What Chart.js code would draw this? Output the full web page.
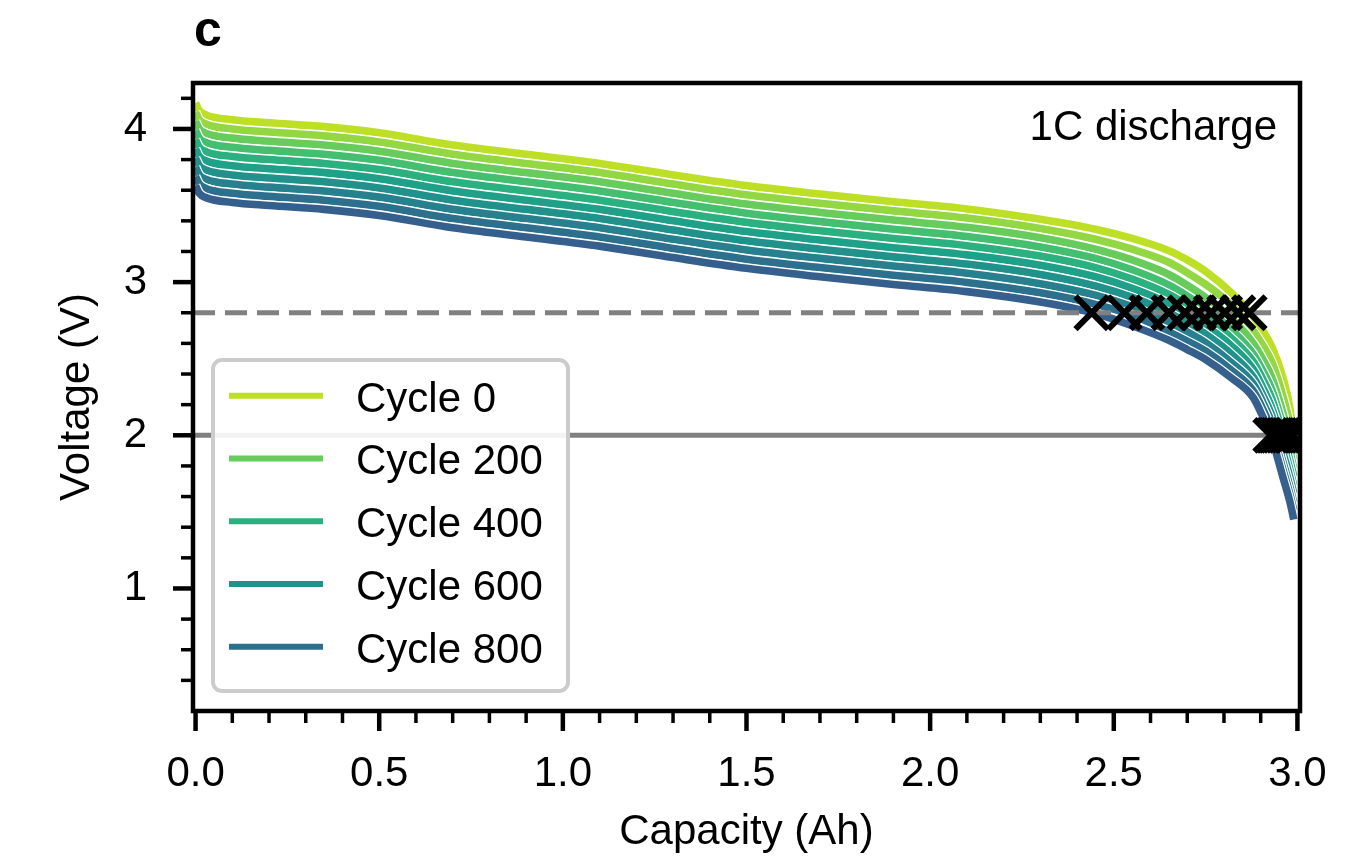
<!DOCTYPE html>
<html>
<head>
<meta charset="utf-8">
<script src="https://cdn.jsdelivr.net/npm/chart.js@4.4.1/dist/chart.umd.min.js"></script>
<style>
  html, body { margin: 0; padding: 0; background: #fff; }
</style>
</head>
<body>
<canvas id="myChart" width="1352" height="866"></canvas>
<script>
// capacity grid (Ah) shared by every discharge curve
var capacity = [0, 0.01, 0.03, 0.1, 0.2, 0.35, 0.5, 0.7, 0.9, 1.1, 1.3, 1.5, 1.7, 1.9, 2.1, 2.3, 2.45, 2.55, 2.65, 2.7, 2.75, 2.82, 2.88, 2.905, 2.93, 2.96, 2.98, 2.99];

var cycles = [0, 100, 200, 300, 400, 500, 600, 700, 800, 900];
var legendCycles = [0, 200, 400, 600, 800];

// voltage (V) per cycle
var v0 = [4.17, 4.12, 4.09, 4.06, 4.04, 4.015, 3.975, 3.895, 3.835, 3.775, 3.70, 3.63, 3.575, 3.525, 3.478, 3.41, 3.345, 3.285, 3.205, 3.145, 3.07, 2.93, 2.77, 2.685, 2.58, 2.38, 2.17, 1.95];
var v1 = [4.11, 4.06, 4.03, 4.00, 3.98, 3.955, 3.915, 3.835, 3.775, 3.715, 3.64, 3.57, 3.515, 3.465, 3.418, 3.35, 3.28, 3.215, 3.13, 3.062, 2.985, 2.85, 2.68, 2.59, 2.48, 2.26, 2.06, 1.89];
var v2 = [4.05, 4.00, 3.97, 3.94, 3.92, 3.895, 3.855, 3.775, 3.715, 3.655, 3.58, 3.51, 3.455, 3.405, 3.358, 3.29, 3.215, 3.145, 3.05, 2.98, 2.90, 2.765, 2.60, 2.50, 2.38, 2.15, 1.96, 1.84];
var v3 = [3.99, 3.94, 3.91, 3.88, 3.86, 3.835, 3.795, 3.715, 3.655, 3.595, 3.52, 3.45, 3.395, 3.345, 3.298, 3.23, 3.155, 3.08, 2.98, 2.91, 2.83, 2.69, 2.53, 2.425, 2.30, 2.07, 1.89, 1.78];
var v4 = [3.93, 3.88, 3.85, 3.82, 3.80, 3.775, 3.735, 3.655, 3.595, 3.535, 3.46, 3.39, 3.335, 3.285, 3.238, 3.17, 3.095, 3.02, 2.92, 2.85, 2.77, 2.635, 2.48, 2.37, 2.24, 2.01, 1.83, 1.73];
var v5 = [3.87, 3.82, 3.79, 3.76, 3.74, 3.715, 3.675, 3.595, 3.535, 3.475, 3.40, 3.33, 3.275, 3.225, 3.178, 3.11, 3.035, 2.96, 2.86, 2.792, 2.715, 2.585, 2.43, 2.315, 2.18, 1.95, 1.77, 1.67];
var v6 = [3.81, 3.76, 3.73, 3.70, 3.68, 3.655, 3.615, 3.535, 3.475, 3.415, 3.34, 3.27, 3.215, 3.165, 3.118, 3.05, 2.975, 2.90, 2.80, 2.733, 2.66, 2.53, 2.38, 2.265, 2.13, 1.89, 1.72, 1.62];
var v7 = [3.75, 3.70, 3.67, 3.64, 3.62, 3.595, 3.555, 3.475, 3.415, 3.355, 3.28, 3.21, 3.155, 3.105, 3.058, 2.99, 2.915, 2.84, 2.74, 2.675, 2.605, 2.475, 2.335, 2.22, 2.08, 1.83, 1.66, 1.56];
var v8 = [3.69, 3.64, 3.61, 3.58, 3.56, 3.535, 3.495, 3.415, 3.355, 3.295, 3.22, 3.15, 3.095, 3.045, 2.998, 2.93, 2.855, 2.785, 2.675, 2.615, 2.55, 2.425, 2.29, 2.175, 2.03, 1.78, 1.61, 1.51];
var v9 = [3.63, 3.58, 3.55, 3.52, 3.50, 3.475, 3.435, 3.355, 3.295, 3.235, 3.16, 3.09, 3.035, 2.985, 2.938, 2.87, 2.795, 2.715, 2.62, 2.56, 2.495, 2.375, 2.245, 2.125, 1.98, 1.73, 1.56, 1.45];
var voltages = [v0, v1, v2, v3, v4, v5, v6, v7, v8, v9];

// where each curve crosses the two cut-off voltages
var cutHigh = 2.8;
var cutLow = 2.0;
var crossHigh = [2.869, 2.838, 2.802, 2.765, 2.731, 2.694, 2.65, 2.59, 2.529, 2.44];
var crossLow = [2.988, 2.984, 2.976, 2.968, 2.961, 2.953, 2.946, 2.94, 2.934, 2.927];

var xTicks = [0, 0.5, 1.0, 1.5, 2.0, 2.5, 3.0];
var xMinor = [0.1, 0.2, 0.3, 0.4, 0.6, 0.7, 0.8, 0.9, 1.1, 1.2, 1.3, 1.4, 1.6, 1.7, 1.8, 1.9, 2.1, 2.2, 2.3, 2.4, 2.6, 2.7, 2.8, 2.9];
var yTicks = [1, 2, 3, 4];
var yMinor = [0.4, 0.6, 0.8, 1.2, 1.4, 1.6, 1.8, 2.2, 2.4, 2.6, 2.8, 3.2, 3.4, 3.6, 3.8, 4.2];
var xMin = -0.007, xMax = 3.007, yMin = 0.2, yMax = 4.3;

var colors = ['#bddf26', '#93d742', '#67cc5c', '#44bf70', '#2bb07f', '#1fa088', '#21918c', '#27808e', '#2d708e', '#355f8d'];

var FONT = "'Liberation Sans', Arial, sans-serif";

function buildDatasets(){
  var sets = [];
  for (var k = 0; k < cycles.length; k++) {
    var pts = capacity.map(function(c, i){ return {x: c, y: voltages[k][i]}; });
    // white edge under each line
    sets.push({
      data: pts, showLine: true, borderColor: '#ffffff', borderWidth: 10,
      pointRadius: 0, pointHoverRadius: 0, cubicInterpolationMode: 'monotone',
      clip: 0, order: 100 - 2 * k
    });
    sets.push({
      label: 'Cycle ' + cycles[k], data: pts, showLine: true,
      borderColor: colors[k], backgroundColor: colors[k], borderWidth: 7.6,
      pointRadius: 0, pointHoverRadius: 0, cubicInterpolationMode: 'monotone',
      clip: 0, order: 99 - 2 * k,
      inLegend: legendCycles.indexOf(cycles[k]) >= 0
    });
  }
  sets.push({
    data: [{x: xMin, y: cutHigh}, {x: xMax, y: cutHigh}], showLine: true,
    borderColor: '#808080', borderWidth: 5, borderDash: [22, 10],
    pointRadius: 0, clip: 0, order: 10
  });
  sets.push({
    data: [{x: xMin, y: cutLow}, {x: xMax, y: cutLow}], showLine: true,
    borderColor: '#808080', borderWidth: 5,
    pointRadius: 0, clip: 0, order: 10
  });
  sets.push({
    data: crossHigh.map(function(c){ return {x: c, y: cutHigh}; }),
    pointStyle: 'crossRot', pointRadius: 23, pointHoverRadius: 23,
    borderColor: '#000', backgroundColor: 'transparent', borderWidth: 6,
    clip: 0, order: 1
  });
  sets.push({
    data: crossLow.map(function(c){ return {x: c, y: cutLow}; }),
    pointStyle: 'crossRot', pointRadius: 23, pointHoverRadius: 23,
    borderColor: '#000', backgroundColor: 'transparent', borderWidth: 6,
    clip: 0, order: 1
  });
  return sets;
}

function line(ctx, x1, y1, x2, y2, w){
  ctx.lineWidth = w;
  ctx.beginPath();
  ctx.moveTo(x1, y1);
  ctx.lineTo(x2, y2);
  ctx.stroke();
}

var frame = {
  id: 'frame',
  afterDatasetsDraw: function(chart){
    var ctx = chart.ctx, a = chart.chartArea;
    var xs = chart.scales.x, ys = chart.scales.y;
    ctx.save();

    // legend box
    var bx = 213, by = 360, bw = 355, bh = 331, r = 9;
    ctx.fillStyle = 'rgba(255,255,255,0.9)';
    ctx.strokeStyle = '#cccccc';
    ctx.lineWidth = 4;
    ctx.beginPath();
    ctx.roundRect(bx, by, bw, bh, r);
    ctx.fill();
    ctx.stroke();
    var items = chart.data.datasets.filter(function(d){ return d.inLegend; });
    ctx.font = '42px ' + FONT;
    ctx.textAlign = 'left';
    ctx.textBaseline = 'alphabetic';
    items.forEach(function(d, i){
      var ly = 395.7 + i * 62.75;
      ctx.strokeStyle = d.borderColor;
      ctx.lineCap = 'butt';
      line(ctx, 229, ly, 323, ly, 6);
      ctx.fillStyle = '#000';
      ctx.fillText(d.label, 356, ly + 16);
    });

    // spines and ticks
    ctx.strokeStyle = '#000';
    ctx.lineWidth = 4.5;
    ctx.lineJoin = 'miter';
    ctx.strokeRect(a.left, a.top, a.right - a.left, a.bottom - a.top);
    xTicks.forEach(function(v){
      var px = xs.getPixelForValue(v);
      line(ctx, px, a.bottom, px, a.bottom + 20, 4.5);
    });
    xMinor.forEach(function(v){
      var px = xs.getPixelForValue(v);
      line(ctx, px, a.bottom, px, a.bottom + 12, 3.5);
    });
    yTicks.forEach(function(v){
      var py = ys.getPixelForValue(v);
      line(ctx, a.left, py, a.left - 20, py, 4.5);
    });
    yMinor.forEach(function(v){
      var py = ys.getPixelForValue(v);
      line(ctx, a.left, py, a.left - 12, py, 3.5);
    });

    // annotation and panel letter
    ctx.fillStyle = '#000';
    ctx.font = '42px ' + FONT;
    ctx.textAlign = 'right';
    ctx.fillText('1C discharge', 1277, 140);
    ctx.font = 'bold 50px ' + FONT;
    ctx.textAlign = 'left';
    ctx.fillText('c', 194, 46);
    ctx.restore();
  }
};

function drawChart(){
  var ctx = document.getElementById('myChart').getContext('2d');
  var chart = new Chart(ctx, {
    type: 'scatter',
    data: { datasets: buildDatasets() },
    options: {
      responsive: false,
      animation: false,
      devicePixelRatio: 1,
      layout: { padding: { top: 83, right: 52, left: 0, bottom: 0 } },
      plugins: { legend: { display: false }, tooltip: { enabled: false } },
      scales: {
        x: {
          type: 'linear', min: xMin, max: xMax,
          afterFit: function(s){ s.height = 155; },
          afterBuildTicks: function(s){ s.ticks = xTicks.map(function(v){ return {value: v}; }); },
          grid: { display: false, drawTicks: true, tickLength: 20 },
          border: { display: false },
          ticks: {
            color: '#000', padding: 18, maxRotation: 0, autoSkip: false,
            font: { family: FONT, size: 42 },
            callback: function(v){ return Number(v).toFixed(1); }
          },
          title: {
            display: true, text: 'Capacity (Ah)', color: '#000',
            font: { family: FONT, size: 42 }, padding: { top: 0, bottom: 8 }
          }
        },
        y: {
          type: 'linear', min: yMin, max: yMax,
          afterFit: function(s){ s.width = 193; },
          afterBuildTicks: function(s){ s.ticks = yTicks.map(function(v){ return {value: v}; }); },
          grid: { display: false, drawTicks: true, tickLength: 20 },
          border: { display: false },
          ticks: {
            color: '#000', padding: 26, autoSkip: false,
            font: { family: FONT, size: 42 },
            callback: function(v){ return String(v); }
          },
          title: {
            display: true, text: 'Voltage (V)', color: '#000',
            font: { family: FONT, size: 42 }, padding: { top: 52, bottom: 0 }
          }
        }
      }
    },
    plugins: [frame]
  });
}

drawChart();
</script>
</body>
</html>
